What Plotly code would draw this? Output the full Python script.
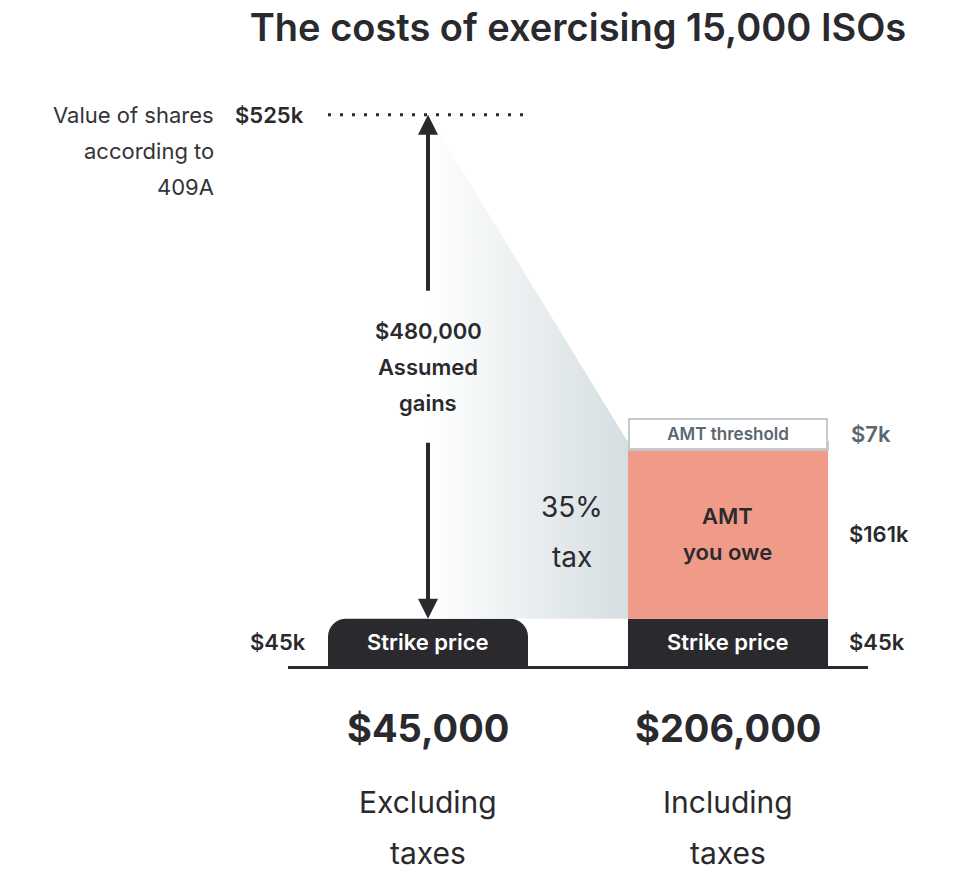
import plotly.graph_objects as go

# ---- data ($ thousands) ----
columns = ["Excluding taxes", "Including taxes"]
column_x = [0, 1]
strike_price_k = 45
amt_owed_k = 161
amt_threshold_k = 7
share_value_k = 525
assumed_gains = 480000
tax_rate_label = "35%"
totals = [45000, 206000]
column_lines = [["Excluding", "taxes"], ["Including", "taxes"]]

# ---- styles ----
DARK = "#2a2a2e"
SALMON = "#f09a88"
SLATE = "#5b6670"
BORDER = "#c3c9cc"
FONT = "Inter, Lato, sans-serif"
BAR_W = 2 / 3

fig = go.Figure()

left_edge = column_x[1] - BAR_W / 2
amt_top = strike_price_k + amt_owed_k
thr_top = amt_top + amt_threshold_k

# gradient wedge (the 35% tax on assumed gains)
fig.add_trace(go.Scatter(
    x=[column_x[0], left_edge, left_edge, column_x[0]],
    y=[share_value_k, thr_top, strike_price_k, strike_price_k],
    mode="lines", fill="toself", line=dict(width=0),
    fillgradient=dict(type="horizontal",
                      colorscale=[[0, "rgba(255,255,255,1)"], [1, "#d5dee1"]]),
    hoverinfo="skip", showlegend=False))

# dotted 409A value line
fig.add_trace(go.Scatter(
    x=[column_x[0] - BAR_W / 2, column_x[0] + BAR_W / 2],
    y=[share_value_k, share_value_k], mode="lines",
    line=dict(color=DARK, width=3, dash="3px,9px"),
    hoverinfo="skip", showlegend=False))

# bars
fig.add_trace(go.Bar(x=[column_x[0]], y=[strike_price_k], width=BAR_W,
                     marker=dict(color=DARK, cornerradius=18, line=dict(width=0)),
                     hoverinfo="skip", showlegend=False))
fig.add_trace(go.Bar(x=[column_x[1]], y=[strike_price_k], width=BAR_W,
                     marker=dict(color=DARK, line=dict(width=0)),
                     hoverinfo="skip", showlegend=False))
fig.add_trace(go.Bar(x=[column_x[1]], y=[amt_owed_k], base=[strike_price_k], width=BAR_W,
                     marker=dict(color=SALMON, line=dict(width=0)),
                     hoverinfo="skip", showlegend=False))
fig.add_trace(go.Bar(x=[column_x[1]], y=[amt_threshold_k], base=[amt_top], width=BAR_W,
                     marker=dict(color="white", line=dict(width=2, color=BORDER)),
                     hoverinfo="skip", showlegend=False))

ann = []

def txt(text, x, y, size, color=DARK, weight=400, xanchor="center", yanchor="middle",
        xshift=0, yshift=0, **kw):
    ann.append(dict(text=text, x=x, y=y, xref="x", yref="y", showarrow=False,
                    xanchor=xanchor, yanchor=yanchor, xshift=xshift, yshift=yshift,
                    font=dict(family=FONT, size=size, color=color, weight=weight), **kw))

# arrows (assumed gains)
mid_gain = (share_value_k + strike_price_k) / 2
gap = 71
for tip, tail in [(share_value_k, mid_gain + gap), (strike_price_k, mid_gain - gap)]:
    ann.append(dict(x=column_x[0], y=tip, ax=column_x[0], ay=tail, xref="x", yref="y",
                    axref="x", ayref="y", text="", showarrow=True, arrowhead=2,
                    arrowsize=1, arrowwidth=4, arrowcolor=DARK, standoff=0))

gain_lines = [f"${assumed_gains:,}", "Assumed", "gains"]
for i, line in enumerate(gain_lines):
    txt(line, column_x[0], mid_gain, 22, weight=600, yshift=36 - 36 * i)

# AMT threshold label box
ann.append(dict(text="AMT threshold", x=column_x[1], y=amt_top, xref="x", yref="y",
                showarrow=False, xanchor="center", yanchor="bottom",
                width=196, height=28, bgcolor="white", bordercolor=BORDER, borderwidth=2,
                borderpad=0, font=dict(family=FONT, size=17, color=SLATE, weight=600)))

# strike price labels
for cx in column_x:
    txt("Strike price", cx, strike_price_k / 2, 22, color="white", weight=600)

# AMT you owe
amt_mid = strike_price_k + amt_owed_k / 2
txt("AMT", column_x[1], amt_mid, 22, weight=600, yshift=18)
txt("you owe", column_x[1], amt_mid, 22, weight=600, yshift=-18)

# 35% tax
txt(tax_rate_label, left_edge, amt_mid, 28, xshift=-56, yshift=27)
txt("tax", left_edge, amt_mid, 28, xshift=-56, yshift=-23)

# right side values
right_edge = column_x[1] + BAR_W / 2
txt(f"${amt_threshold_k}k", right_edge, amt_top, 22, color=SLATE, weight=600,
    xanchor="left", xshift=21, yshift=16)
txt(f"${amt_owed_k}k", right_edge, amt_mid, 22, weight=600, xanchor="left", xshift=19)
txt(f"${strike_price_k}k", right_edge, strike_price_k / 2, 22, weight=600,
    xanchor="left", xshift=19)

# left side values
left_col_edge = column_x[0] - BAR_W / 2
txt(f"${strike_price_k}k", left_col_edge, strike_price_k / 2, 22, weight=600,
    xanchor="right", xshift=-20)
txt(f"${share_value_k}k", left_col_edge, share_value_k, 22, weight=600,
    xanchor="right", xshift=-22)
for i, line in enumerate(["Value of shares", "according to", "409A"]):
    txt(line, left_col_edge, share_value_k, 22, color="#333336", xanchor="right",
        xshift=-112, yshift=-36 * i)

# totals and captions below baseline
for cx, tot, lines in zip(column_x, totals, column_lines):
    txt(f"${tot:,}", cx, 0, 38, weight=700, yshift=-62)
    txt(lines[0], cx, 0, 30, yshift=-136)
    txt(lines[1], cx, 0, 30, yshift=-187)

fig.update_layout(
    width=956, height=878,
    margin=dict(l=288, r=88, t=78, b=212),
    paper_bgcolor="white", plot_bgcolor="white",
    barmode="overlay",
    title=dict(text="The costs of exercising 15,000 ISOs", x=0.5, xref="paper",
               y=1 - 28 / 878, yref="container", yanchor="middle", xanchor="center",
               font=dict(family=FONT, size=38, color=DARK, weight=600)),
    xaxis=dict(range=[-0.4667, 1.4667], showgrid=False, zeroline=False,
               showticklabels=False, ticks="", showline=True, linecolor=DARK,
               linewidth=3, fixedrange=True),
    yaxis=dict(range=[0, 560], showgrid=False, zeroline=False, showticklabels=False,
               ticks="", showline=False, fixedrange=True),
    annotations=ann,
)

fig.write_html("out.html", post_script="document.body.style.margin='0';",
               config={"displayModeBar": False})
